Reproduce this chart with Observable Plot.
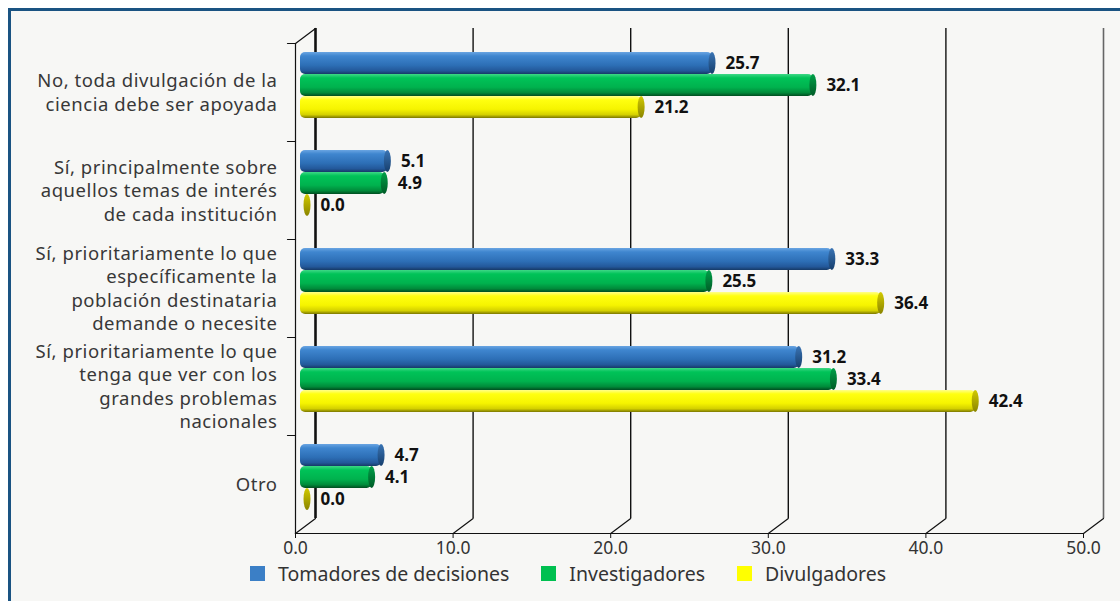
<!DOCTYPE html>
<html>
<head>
<meta charset="utf-8">
<script src="https://cdn.jsdelivr.net/npm/d3@7"></script>
<script src="https://cdn.jsdelivr.net/npm/@observablehq/plot@0.6"></script>
<style>
  html, body { margin: 0; padding: 0; background: #ffffff; width: 1120px; height: 601px; overflow: hidden; font-family: "Noto Sans", "Open Sans", sans-serif; }
  #frame { position: absolute; left: 8px; top: 8px; width: 1130px; height: 610px; background: #f7f7f5; border-left: 3px solid #1a5382; border-top: 3px solid #1a5382; }
  #chart { position: absolute; left: 0; top: 0; }
  #legend { position: absolute; left: 250px; top: 560px; display: flex; align-items: center; font-size: 19.5px; color: #333; }
  #legend .item { display: flex; align-items: center; margin-right: 32px; }
  #legend .sw { width: 15px; height: 15px; margin-right: 13px; }
</style>
</head>
<body>
<svg width="0" height="0" style="position:absolute">
  <defs>
    <linearGradient id="gBlue" x1="0" y1="0" x2="0" y2="1">
      <stop offset="0" stop-color="#6aa5e2"/>
      <stop offset="0.18" stop-color="#3f86cf"/>
      <stop offset="0.6" stop-color="#2d6fb6"/>
      <stop offset="0.85" stop-color="#23589a"/>
      <stop offset="1" stop-color="#163a66"/>
    </linearGradient>
    <linearGradient id="gGreen" x1="0" y1="0" x2="0" y2="1">
      <stop offset="0" stop-color="#3ed886"/>
      <stop offset="0.18" stop-color="#00c358"/>
      <stop offset="0.6" stop-color="#00b24e"/>
      <stop offset="0.85" stop-color="#008a3a"/>
      <stop offset="1" stop-color="#004d20"/>
    </linearGradient>
    <linearGradient id="gYellow" x1="0" y1="0" x2="0" y2="1">
      <stop offset="0" stop-color="#ffff8a"/>
      <stop offset="0.18" stop-color="#ffff10"/>
      <stop offset="0.6" stop-color="#f6f400"/>
      <stop offset="0.85" stop-color="#d4d000"/>
      <stop offset="1" stop-color="#7a7600"/>
    </linearGradient>
    <linearGradient id="cBlue" x1="0" y1="0" x2="0" y2="1">
      <stop offset="0" stop-color="#3a74b4"/>
      <stop offset="1" stop-color="#163e6c"/>
    </linearGradient>
    <linearGradient id="cGreen" x1="0" y1="0" x2="0" y2="1">
      <stop offset="0" stop-color="#00a048"/>
      <stop offset="1" stop-color="#005a26"/>
    </linearGradient>
    <linearGradient id="cYellow" x1="0" y1="0" x2="0" y2="1">
      <stop offset="0" stop-color="#d2ca00"/>
      <stop offset="1" stop-color="#8a8400"/>
    </linearGradient>
  </defs>
</svg>
<div id="frame"></div>
<div id="chart"></div>
<div id="legend"></div>
<script>
// ---- data ----
const categories = [
  "No, toda divulgación de la\nciencia debe ser apoyada",
  "Sí, principalmente sobre\naquellos temas de interés\nde cada institución",
  "Sí, prioritariamente lo que\nespecíficamente la\npoblación destinataria\ndemande o necesite",
  "Sí, prioritariamente lo que\ntenga que ver con los\ngrandes problemas\nnacionales",
  "Otro"
];
const seriesNames = ["Tomadores de decisiones", "Investigadores", "Divulgadores"];
const tomadores = [25.7, 5.1, 33.3, 31.2, 4.7];
const investigadores = [32.1, 4.9, 25.5, 33.4, 4.1];
const divulgadores = [21.2, 0.0, 36.4, 42.4, 0.0];
const xTicks = [0, 10, 20, 30, 40, 50];
const legendColors = ["#3b7fc6", "#00c050", "#ffff00"];
const barFills = ["url(#gBlue)", "url(#gGreen)", "url(#gYellow)"];
const capFills = ["url(#cBlue)", "url(#cGreen)", "url(#cYellow)"];

const seriesValues = [tomadores, investigadores, divulgadores];
const rows = seriesValues.map((vals, k) =>
  vals.map((v, i) => ({cat: categories[i], series: seriesNames[k], k, value: v}))
);

// 3D depth offset
const DX = 20, DY = -15;
const line = {draw(context, l) { context.moveTo(0, 0); context.lineTo(0, -l); }};
const depthLen = Math.hypot(DX, DY);
const depthAngle = Math.atan2(DX, -DY) * 180 / Math.PI;

const band = 98, barH = 22, firstInset = 9;

const marks = [];
// back-plane gridlines
marks.push(Plot.ruleX(xTicks.filter(d => d > 0 && d < 50), {x: d => d, dx: DX, dy: DY, stroke: "#111", strokeWidth: 1.4}));
marks.push(Plot.ruleX([50], {x: d => d, dx: DX, dy: DY, stroke: "#666", strokeWidth: 1.6}));
marks.push(Plot.ruleX([0], {x: d => d, dx: DX, dy: DY, stroke: "#111", strokeWidth: 2.6}));
// depth diagonals at the bottom and top-left
marks.push(Plot.vector(xTicks, {x: d => d, frameAnchor: "bottom", anchor: "start", length: depthLen, rotate: depthAngle, shape: line, stroke: "#111", strokeWidth: 1.2}));
marks.push(Plot.vector([0], {x: d => d, frameAnchor: "top", anchor: "start", length: depthLen, rotate: depthAngle, shape: line, stroke: "#111", strokeWidth: 1.2}));
// front axis lines
marks.push(Plot.frame({anchor: "left", stroke: "#111", strokeWidth: 1.2}));
marks.push(Plot.frame({anchor: "bottom", stroke: "#111", strokeWidth: 1.2}));
// category boundary ticks
marks.push(Plot.vector(categories, {y: d => d, frameAnchor: "left", anchor: "start", length: 8, rotate: -90, dy: -band / 2, shape: line, stroke: "#111", strokeWidth: 1.2}));
// category labels
marks.push(Plot.text(categories, {y: d => d, frameAnchor: "left", textAnchor: "end", dx: -18, dy: -1, fontSize: 18.5, lineHeight: 1.27, fill: "#383838", fontFamily: "Noto Sans"}));

// bars
rows.forEach((data, k) => {
  const insetTop = firstInset + barH * k;
  const insetBottom = band - barH - insetTop;
  marks.push(Plot.barX(data.filter(d => d.value > 0), {
    y: "cat", x1: 0, x2: "value", dx: 12, insetLeft: -7, insetTop, insetBottom,
    rx: 5, fill: barFills[k]
  }));
  marks.push(Plot.rect(data, {
    y: "cat", x1: "value", x2: "value", dx: 12, insetLeft: -3.5, insetRight: -3.5, insetTop, insetBottom,
    rx: 3.5, ry: barH / 2, fill: capFills[k]
  }));
  marks.push(Plot.text(data, {
    y: "cat", x: "value", text: d => d.value.toFixed(1), dx: 25, dy: insetTop + barH / 2 - band / 2,
    textAnchor: "start", fontWeight: "bold", fontSize: 17, fill: "#111", fontFamily: "Noto Sans"
  }));
});

// x axis
marks.push(Plot.axisX({ticks: xTicks, tickFormat: d => d.toFixed(1), label: null, tickSize: 5, tickPadding: 3, fontSize: 17.5, color: "#333", fontFamily: "Noto Sans", stroke: "#111"}));

const chart = Plot.plot({
  width: 1120,
  height: 560,
  marginLeft: 295,
  marginRight: 37,
  marginTop: 43,
  marginBottom: 27,
  style: {background: "transparent", overflow: "visible"},
  x: {domain: [0, 50], axis: null},
  y: {domain: categories, padding: 0, axis: null},
  marks
});
document.getElementById("chart").appendChild(chart);
// widen the category labels slightly to match the reference typeface
d3.select(chart).selectAll('g[aria-label="text"]').filter((d, i) => i === 0).style("letter-spacing", "0.55px");

// legend
const legend = d3.select("#legend");
seriesNames.forEach((name, k) => {
  const item = legend.append("div").attr("class", "item");
  item.append("div").attr("class", "sw").style("background", legendColors[k]);
  item.append("span").text(name);
});
</script>
</body>
</html>
